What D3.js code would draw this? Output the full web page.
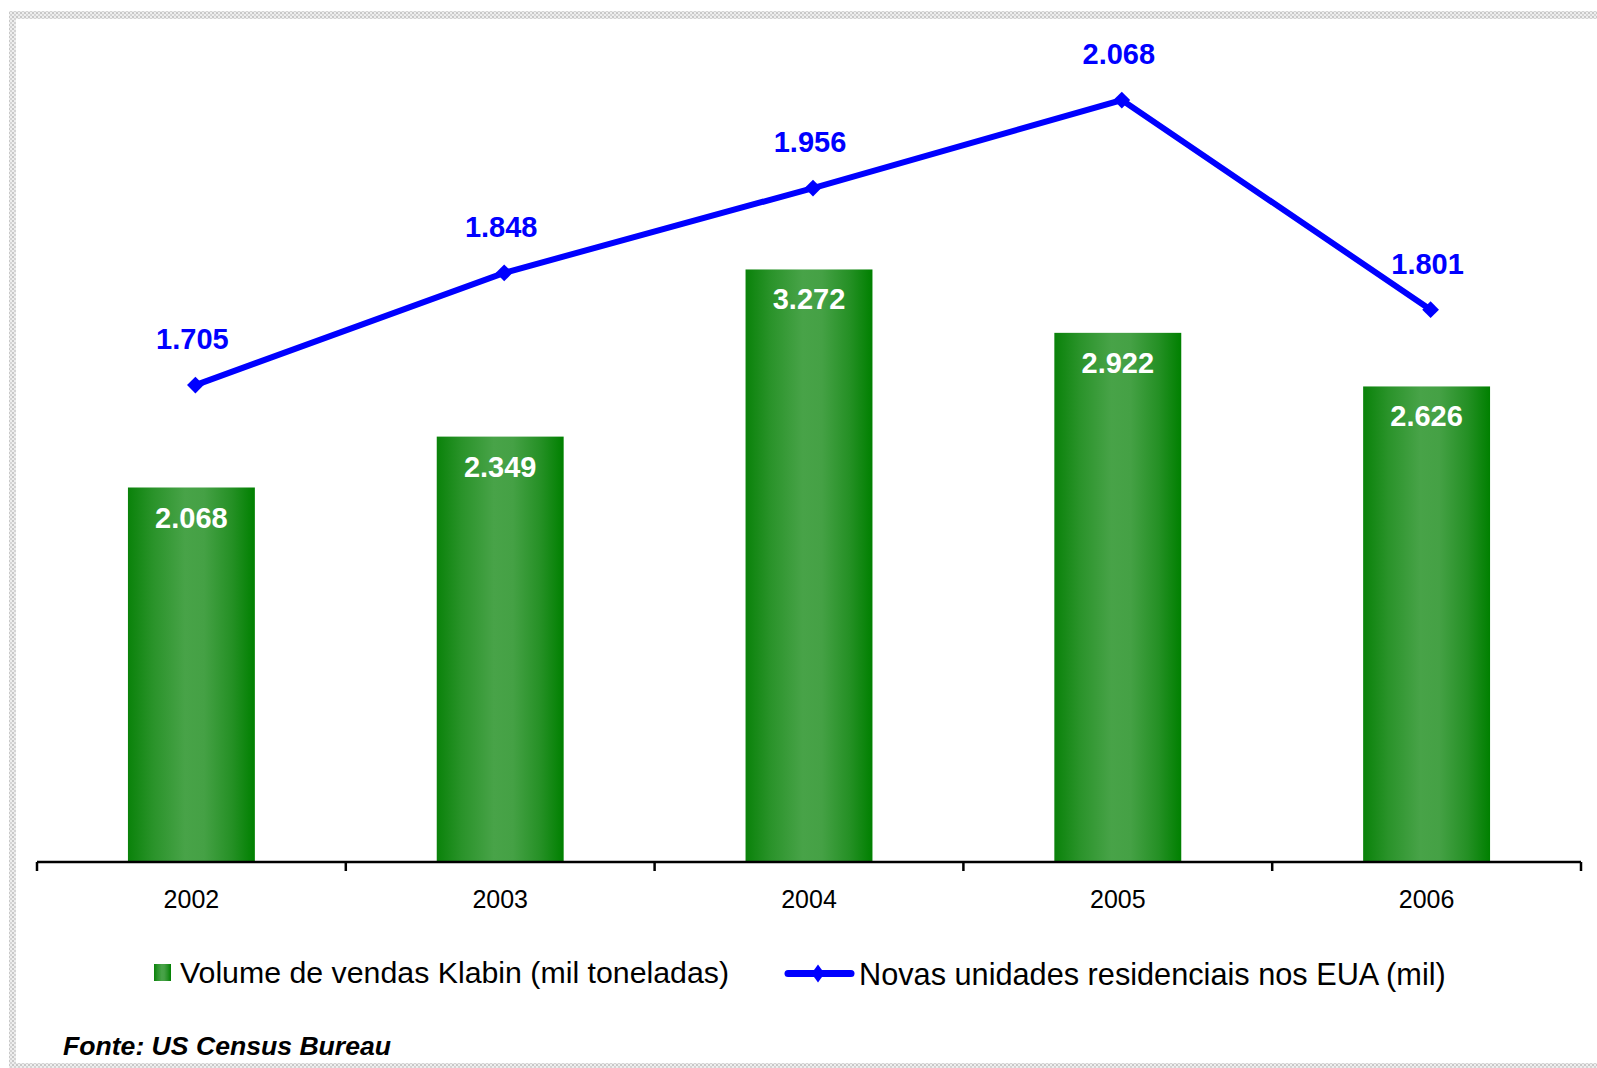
<!DOCTYPE html>
<html>
<head>
<meta charset="utf-8">
<script src="https://cdn.jsdelivr.net/npm/d3@7"></script>
<style>
  html, body { margin: 0; padding: 0; background: #ffffff; }
  svg { display: block; }
  text { font-family: "Liberation Sans", Arial, sans-serif; }
</style>
</head>
<body>
<svg id="chart" width="1597" height="1068"></svg>
<script>
// ---- data ----
const years = ["2002", "2003", "2004", "2005", "2006"];
const salesVolume = [2068, 2349, 3272, 2922, 2626];      // Volume de vendas Klabin (mil toneladas)
const housingUnits = [1705, 1848, 1956, 2068, 1801];     // Novas unidades residenciais nos EUA (mil)
const legendLabels = ["Volume de vendas Klabin (mil toneladas)", "Novas unidades residenciais nos EUA (mil)"];
const sourceNote = "Fonte: US Census Bureau";

// ---- setup ----
const W = 1597, H = 1068;
const svg = d3.select("#chart");
const ptBR = d3.formatLocale({ decimal: ",", thousands: ".", grouping: [3], currency: ["R$", ""] });
const fmt = ptBR.format(",d");

const axisY = 862;
const x = d3.scaleBand().domain(years).range([37, 1581]).paddingInner(0.589).paddingOuter(0.2945);
const yBar = d3.scaleLinear().domain([0, 4760]).range([axisY, 0]);
const yLine = d3.scaleLinear().domain([1097.5, 2195.5]).range([axisY, 0]);
const lineOffset = 4;

const defs = svg.append("defs");
const grad = defs.append("linearGradient").attr("id", "barGrad")
  .attr("x1", "0%").attr("x2", "100%").attr("y1", "0%").attr("y2", "0%");
[[0, "#0a820a"], [0.2, "#2a932a"], [0.45, "#48a348"], [0.6, "#45a145"], [0.82, "#259025"], [1, "#008000"]]
  .forEach(([o, c]) => grad.append("stop").attr("offset", o).attr("stop-color", c));

const pat = defs.append("pattern").attr("id", "dots").attr("width", 4).attr("height", 4)
  .attr("patternUnits", "userSpaceOnUse");
pat.append("rect").attr("width", 4).attr("height", 4).attr("fill", "#eeeeee");
pat.append("rect").attr("width", 2).attr("height", 2).attr("fill", "#c8c8c8");
pat.append("rect").attr("x", 2).attr("y", 2).attr("width", 2).attr("height", 2).attr("fill", "#d4d4d4");

// frame (dotted border top, left, bottom)
svg.append("rect").attr("x", 9).attr("y", 11).attr("width", W - 9).attr("height", 8).attr("fill", "url(#dots)");
svg.append("rect").attr("x", 9).attr("y", 11).attr("width", 7).attr("height", H - 11).attr("fill", "url(#dots)");
svg.append("rect").attr("x", 9).attr("y", 1063).attr("width", W - 9).attr("height", 5).attr("fill", "url(#dots)");

// ---- bars ----
const barData = years.map((y, i) => ({ year: y, v: salesVolume[i] }));
svg.append("g").selectAll("rect").data(barData).join("rect")
  .attr("x", d => x(d.year))
  .attr("y", d => yBar(d.v))
  .attr("width", x.bandwidth())
  .attr("height", d => axisY - yBar(d.v))
  .attr("fill", "url(#barGrad)");

svg.append("g").selectAll("text").data(barData).join("text")
  .attr("x", d => x(d.year) + x.bandwidth() / 2)
  .attr("y", d => yBar(d.v) + 40)
  .attr("text-anchor", "middle")
  .attr("font-size", 29).attr("font-weight", "bold").attr("fill", "#ffffff")
  .text(d => fmt(d.v));

// ---- x axis ----
const xAxis = d3.axisBottom(x).tickSize(0).tickPadding(0);
const gx = svg.append("g").attr("transform", `translate(0,${axisY})`).call(xAxis);
gx.select(".domain").remove();
gx.selectAll("text").attr("font-size", 25).attr("fill", "#000").attr("y", 46).attr("dy", null)
  .style("font-family", "'Liberation Sans', Arial, sans-serif");

svg.append("line").attr("x1", 37).attr("x2", 1581).attr("y1", axisY).attr("y2", axisY)
  .attr("stroke", "#000").attr("stroke-width", 2.5);
const boundaries = years.map(y => x(y) - x.step() * 0.2945).concat([x(years[years.length - 1]) - x.step() * 0.2945 + x.step()]);
svg.append("g").selectAll("line").data(boundaries).join("line")
  .attr("x1", d => d).attr("x2", d => d)
  .attr("y1", axisY).attr("y2", axisY + 9)
  .attr("stroke", "#000").attr("stroke-width", 2.5);

// ---- line ----
const lineData = years.map((y, i) => ({ year: y, v: housingUnits[i] }));
const lx = d => x(d.year) + x.bandwidth() / 2 + lineOffset;
svg.append("path").datum(lineData)
  .attr("d", d3.line().x(lx).y(d => yLine(d.v)))
  .attr("fill", "none").attr("stroke", "#0000ff").attr("stroke-width", 6)
  .attr("stroke-linejoin", "miter");

const diamond = d3.symbol().type(d3.symbolSquare).size(140);
svg.append("g").selectAll("path").data(lineData).join("path")
  .attr("d", diamond)
  .attr("transform", d => `translate(${lx(d)},${yLine(d.v)}) rotate(45)`)
  .attr("fill", "#0000ff");

svg.append("g").selectAll("text").data(lineData).join("text")
  .attr("x", d => x(d.year) + x.bandwidth() / 2 + 1)
  .attr("y", d => yLine(d.v) - 36)
  .attr("text-anchor", "middle")
  .attr("font-size", 29).attr("font-weight", "bold").attr("fill", "#0000ff")
  .text(d => fmt(d.v));

// ---- legend ----
const lg = svg.append("g");
lg.append("rect").attr("x", 154).attr("y", 964).attr("width", 17).attr("height", 17).attr("fill", "url(#barGrad)");
lg.append("text").attr("x", 180).attr("y", 983).attr("font-size", 30.3).attr("fill", "#000").text(legendLabels[0]);

lg.append("line").attr("x1", 788).attr("x2", 851).attr("y1", 973.5).attr("y2", 973.5)
  .attr("stroke", "#0000ff").attr("stroke-width", 7).attr("stroke-linecap", "round");
lg.append("path").attr("d", "M0,-9L6.5,0L0,9L-6.5,0Z").attr("transform", "translate(818,973.5)").attr("fill", "#0000ff");
lg.append("text").attr("x", 859).attr("y", 985).attr("font-size", 30.7).attr("fill", "#000").text(legendLabels[1]);

// ---- source ----
svg.append("text").attr("x", 63).attr("y", 1055).attr("font-size", 26.6)
  .attr("font-weight", "bold").attr("font-style", "italic").attr("fill", "#000")
  .text(sourceNote);
</script>
</body>
</html>
